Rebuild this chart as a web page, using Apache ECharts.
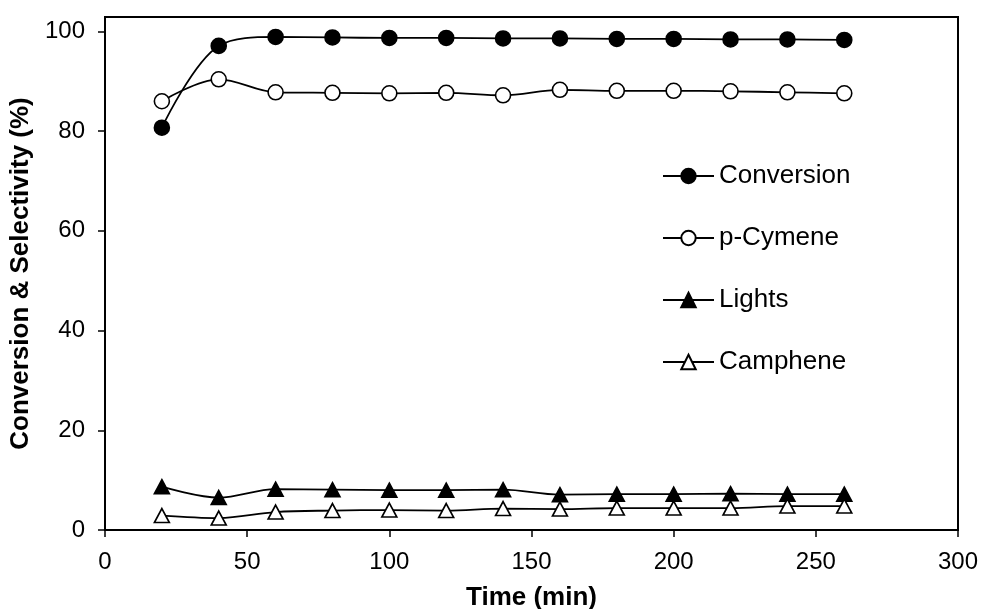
<!DOCTYPE html>
<html>
<head>
<meta charset="utf-8">
<script src="https://cdn.jsdelivr.net/npm/echarts@6/dist/echarts.min.js"></script>
<style>
  html, body { margin: 0; padding: 0; background: #fff; }
  #chart { width: 981px; height: 609px; }
</style>
</head>
<body>
<div id="chart"></div>
<script>
// Reaction time (min)
const timeMin = [20, 40, 60, 80, 100, 120, 140, 160, 180, 200, 220, 240, 260];
// Conversion and product selectivities (%)
const conversion = [80.7, 97.1, 98.9, 98.8, 98.7, 98.7, 98.6, 98.6, 98.5, 98.5, 98.4, 98.4, 98.3];
const pCymene    = [86.0, 90.4, 87.8, 87.7, 87.6, 87.7, 87.2, 88.3, 88.1, 88.1, 88.0, 87.8, 87.6];
const lights     = [8.7, 6.5, 8.2, 8.1, 8.0, 8.0, 8.1, 7.1, 7.2, 7.2, 7.3, 7.2, 7.2];
const camphene   = [2.9, 2.4, 3.6, 3.9, 4.0, 3.9, 4.3, 4.2, 4.4, 4.4, 4.4, 4.8, 4.8];
const yTicks = [0, 20, 40, 60, 80, 100];

const FONT = 'Arial, "Liberation Sans", sans-serif';

function pairs(ys) {
  return timeMin.map((t, i) => [t, ys[i]]);
}

function makeSeries(name, ys, symbol, filled, size) {
  return {
    name: name,
    type: 'line',
    data: pairs(ys),
    smooth: 0.35,
    symbol: symbol,
    symbolSize: size,
    showAllSymbol: true,
    lineStyle: { color: '#000', width: 1.8 },
    itemStyle: {
      color: filled ? '#000' : '#fff',
      borderColor: '#000',
      borderWidth: 1.6
    },
    emphasis: { disabled: true },
    animation: false
  };
}

const chart = echarts.init(document.getElementById('chart'), null, { renderer: 'canvas' });
chart.setOption({
  backgroundColor: '#fff',
  animation: false,
  grid: {
    left: 105, right: 23, top: 17, bottom: 79,
    outerBoundsMode: 'none',
    containLabel: false,
    show: true, borderColor: '#000', borderWidth: 2, backgroundColor: 'transparent'
  },
  legend: {
    orient: 'vertical',
    left: 657, top: 158,
    itemWidth: 51, itemHeight: 18,
    itemGap: 36,
    textStyle: { fontFamily: FONT, fontSize: 26, color: '#000' },
    data: ['Conversion', 'p-Cymene', 'Lights', 'Camphene'],
    selectedMode: false
  },
  xAxis: {
    type: 'value', min: 0, max: 300, interval: 50,
    name: 'Time (min)', nameLocation: 'middle', nameGap: 55,
    nameTextStyle: { fontFamily: FONT, fontSize: 26, fontWeight: 'bold', color: '#000' },
    axisLine: { show: true, onZero: false, lineStyle: { color: '#000', width: 2 } },
    axisTick: { show: true, inside: false, length: 7, lineStyle: { color: '#000', width: 1.5 } },
    axisLabel: { fontFamily: FONT, fontSize: 24, color: '#000', margin: 20 },
    splitLine: { show: false }
  },
  yAxis: {
    type: 'value', min: 0, max: 102.9, interval: 20,
    name: 'Conversion & Selectivity (%)', nameLocation: 'middle', nameGap: 57,
    nameTextStyle: { fontFamily: FONT, fontSize: 26, fontWeight: 'bold', color: '#000' },
    axisLine: { show: true, onZero: false, lineStyle: { color: '#000', width: 2 } },
    axisTick: { show: true, inside: false, length: 7, customValues: yTicks, lineStyle: { color: '#000', width: 1.5 } },
    axisLabel: { fontFamily: FONT, fontSize: 24, color: '#000', margin: 20, customValues: yTicks },
    splitLine: { show: false }
  },
  series: [
    makeSeries('Conversion', conversion, 'circle', true, 15),
    makeSeries('p-Cymene', pCymene, 'circle', false, 15),
    makeSeries('Lights', lights, 'triangle', true, [15, 14]),
    makeSeries('Camphene', camphene, 'triangle', false, [15, 14])
  ]
});
</script>
</body>
</html>
